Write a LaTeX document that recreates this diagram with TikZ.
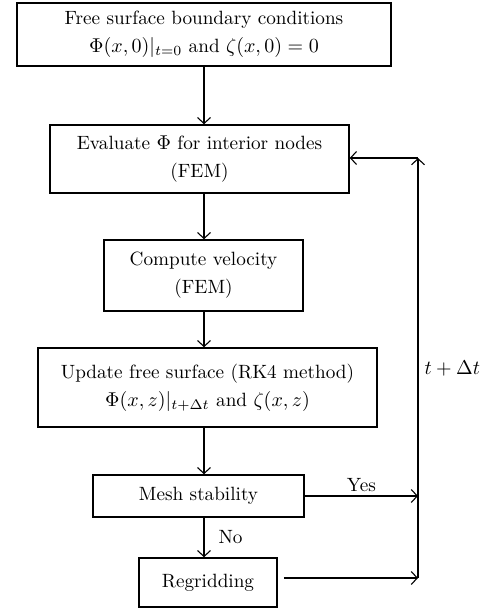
\documentclass[tikz,border=0pt]{standalone}
\usepackage{amsmath}
\usepackage{tikz}
\usetikzlibrary{arrows.meta, positioning}

\begin{document}
\begin{tikzpicture}[
  x=0.5pt, y=-0.5pt,
  >={Straight Barb[length=3pt,width=6.5pt]},
  stepbox/.style={rectangle, draw, line width=0.75pt, inner sep=0pt, font=\fontsize{9.6}{14}\selectfont, align=center},
  flow/.style={->, line width=0.55pt},
  lbl/.style={font=\fontsize{9.6}{14}\selectfont, inner sep=1pt},
]
  \useasboundingbox (0,0) rectangle (484,610);

  \node[stepbox, minimum width=187pt, minimum height=31.5pt] (bc) at (204,34.5)
    {Free surface boundary conditions\\ $\Phi(x,0)|_{t=0}$ and $\zeta(x,0)=0$};
  \node[stepbox, minimum width=149.5pt, minimum height=34pt] (eval) at (199.5,159)
    {Evaluate $\Phi$ for interior nodes\\ (FEM)};
  \node[stepbox, minimum width=99.5pt, minimum height=35.5pt] (vel) at (203.5,275.5)
    {Compute velocity\\ (FEM)};
  \node[stepbox, minimum width=169.5pt, minimum height=39.5pt] (upd) at (207.5,387.5)
    {Update free surface (RK4 method)\\ $\Phi(x,z)|_{t+\Delta t}$ and $\zeta(x,z)$};
  \node[stepbox, minimum width=105.5pt, minimum height=21pt] (mesh) at (198.5,496)
    {Mesh stability};
  \node[stepbox, minimum width=69pt, minimum height=24.5pt] (regrid) at (208,582.5)
    {Regridding};

  % spine and loop-back line
  \coordinate (spine) at (204,0);
  \coordinate (loop) at (418,0);
  \coordinate (looptop) at (418,158);
  \coordinate (loopbot) at (418,578);

  \draw[flow] (bc.south -| spine) -- (eval.north -| spine);
  \draw[flow] (eval.south -| spine) -- (vel.north -| spine);
  \draw[flow] (vel.south -| spine) -- (upd.north -| spine);
  \draw[flow] (upd.south -| spine) -- (mesh.north -| spine);
  \draw[flow] (mesh.south -| spine) -- node[lbl, right=6pt] (no) {No} (regrid.north -| spine);

  \draw[flow] (mesh.east) -- node[lbl, above=1pt] (yes) {Yes} (mesh.east -| loop);
  \draw[flow, shorten <=3pt] (regrid.east |- loopbot) -- (loopbot);
  \draw[flow] (loopbot) -- node[lbl, right=2pt] (dt) {$t+\Delta t$} (looptop);
  \draw[flow] (looptop) -- (eval.east |- looptop);
\end{tikzpicture}
\end{document}
